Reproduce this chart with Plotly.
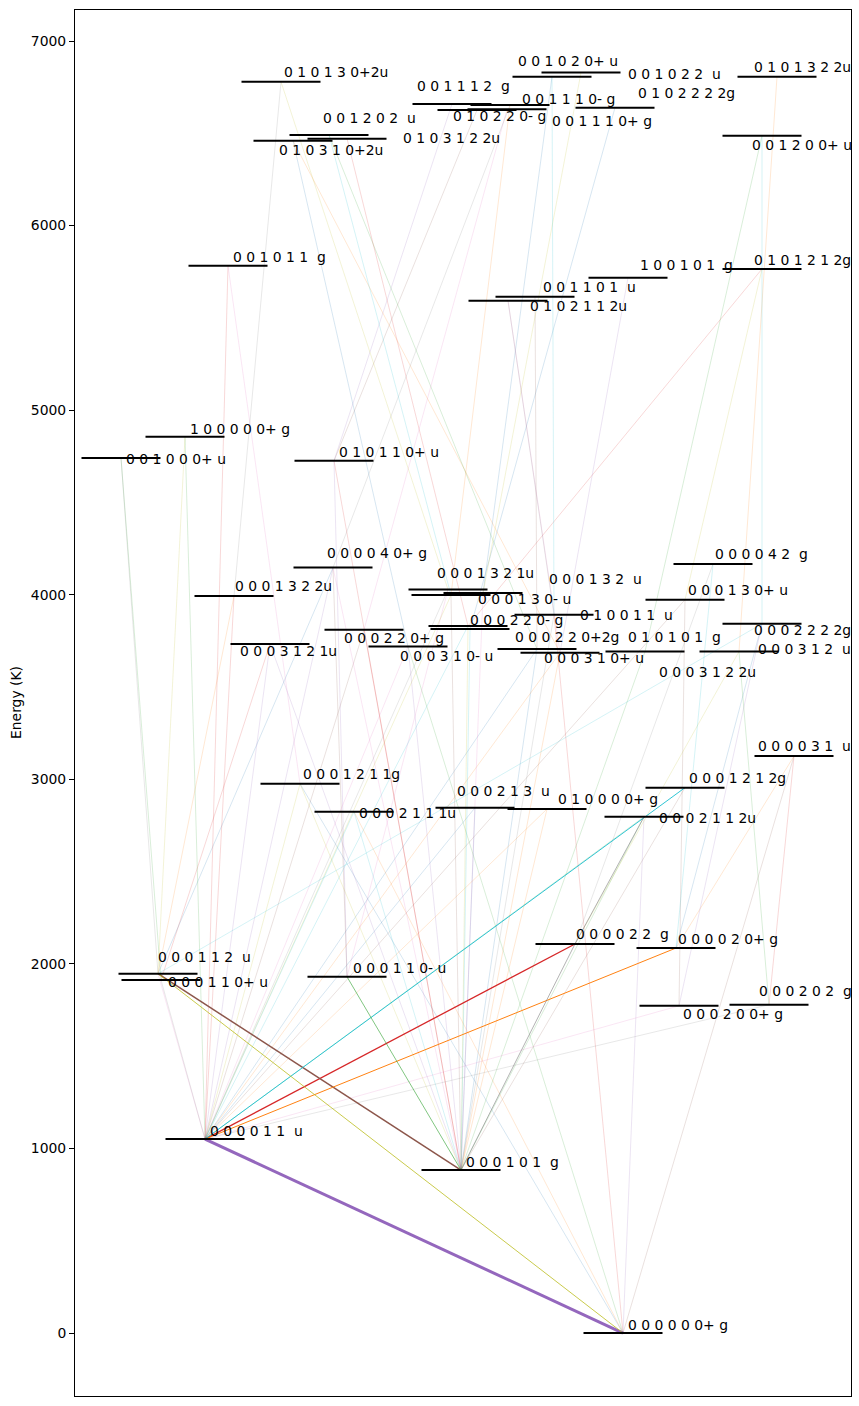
import plotly.graph_objects as go

# ---------------- data ----------------
level_labels = [
    "0 0 0 0 0 0+ g", "0 0 0 0 1 1  u", "0 0 0 1 0 1  g", "0 0 0 1 1 2  u", "0 0 0 1 1 0+ u",
    "0 0 0 1 1 0- u", "0 0 0 0 2 2  g", "0 0 0 0 2 0+ g", "0 0 0 2 0 2  g", "0 0 0 2 0 0+ g",
    "0 0 0 1 2 1 1g", "0 0 0 2 1 1 1u", "0 0 0 2 1 3  u", "0 1 0 0 0 0+ g", "0 0 0 1 2 1 2g",
    "0 0 0 2 1 1 2u", "0 0 0 0 3 1  u", "0 0 0 0 4 0+ g", "0 0 0 1 3 2 2u", "0 0 0 3 1 2 1u",
    "0 0 0 2 2 0+ g", "0 0 0 3 1 0- u", "0 0 0 1 3 2 1u", "0 0 0 1 3 0- u", "0 0 0 1 3 2  u",
    "0 0 0 0 4 2  g", "0 0 0 1 3 0+ u", "0 1 0 0 1 1  u", "0 0 0 2 2 0- g", "0 0 0 3 1 2 2u",
    "0 0 0 2 2 0+2g", "0 0 0 3 1 0+ u", "0 1 0 1 0 1  g", "0 0 0 3 1 2  u", "0 0 0 2 2 2 2g",
    "1 0 0 0 0 0+ g", "0 0 1 0 0 0+ u", "0 1 0 1 1 0+ u", "0 0 1 0 1 1  g", "1 0 0 1 0 1  g",
    "0 1 0 1 2 1 2g", "0 0 1 1 0 1  u", "0 1 0 2 1 1 2u", "0 1 0 1 3 0+2u", "0 0 1 1 1 2  g",
    "0 0 1 1 1 0- g", "0 0 1 1 1 0+ g", "0 1 0 2 2 0- g", "0 1 0 2 2 2 2g", "0 0 1 2 0 2  u",
    "0 1 0 3 1 0+2u", "0 1 0 3 1 2 2u", "0 0 1 0 2 0+ u", "0 0 1 0 2 2  u", "0 1 0 1 3 2 2u",
    "0 0 1 2 0 0+ u",
]
level_E = [
    0, 1051, 883, 1947, 1913,
    1930, 2108, 2086, 1779, 1773,
    2976, 2824, 2846, 2839, 2955,
    2797, 3126, 4147, 3993, 3733,
    3811, 3719, 4028, 3998, 4009,
    4166, 3973, 3892, 3831, 3814,
    3706, 3686, 3692, 3692, 3843,
    4856, 4741, 4726, 5783, 5718,
    5765, 5615, 5593, 6779, 6659,
    6653, 6630, 6626, 6639, 6491,
    6460, 6471, 6829, 6807, 6807,
    6487,
]
# horizontal placement of each level (arbitrary diagram units)
level_x = [
    548, 130, 386, 83, 86,
    272, 500, 601, 694, 604,
    225, 279, 400, 472, 610,
    569, 719, 258, 159, 195,
    289, 333, 373, 376, 408,
    638, 610, 479, 393, 395,
    462, 485, 570, 664, 687,
    110, 46, 259, 153, 553,
    687, 460, 433, 206, 377,
    435, 432, 402, 540, 254,
    218, 272, 506, 477, 702,
    687,
]

# strong transitions (from level, to level, relative intensity)
strong_from = [0, 1, 3, 1, 1, 3, 2, 6, 2]
strong_to = [1, 6, 2, 7, 14, 0, 5, 15, 6]
strong_int = [1.0, 0.43, 0.5, 0.33, 0.3, 0.27, 0.2, 0.2, 0.2]

# weak transitions (from level, to level)
weak_from = [
    0, 0, 0, 0, 0, 0,
    1, 1, 1, 1, 1, 1, 1, 1, 1, 1, 1, 1, 1, 1, 1, 1, 1, 1, 1, 1, 1, 1,
    2, 2, 2, 2, 2, 2, 2, 2, 2, 2, 2, 2, 2, 2, 2, 2, 2, 2, 2,
    3, 3, 3, 3, 3, 4, 4, 5, 5, 5, 6, 6, 7, 7, 7, 8, 8, 9, 9,
    10, 18, 22, 23, 21, 31, 30, 28, 37, 37, 20, 17, 24, 27, 29, 33, 32, 28, 31, 30, 31, 27, 26, 34, 24, 23,
]
weak_to = [
    10, 11, 21, 27, 15, 16,
    3, 4, 10, 11, 12, 13, 15, 18, 19, 20, 21, 22, 23, 28, 30, 31, 35, 38, 17, 26, 9, 8,
    10, 11, 12, 13, 15, 20, 21, 23, 24, 27, 28, 29, 30, 31, 32, 37, 19, 14, 17,
    36, 35, 34, 17, 18, 36, 19, 37, 17, 22, 25, 33, 25, 34, 16, 33, 16, 34, 26,
    38, 43, 43, 49, 50, 50, 49, 51, 44, 47, 46, 45, 52, 53, 48, 54, 55, 40, 39, 41, 42, 42, 40, 55, 53, 45,
]

yticks = [0, 1000, 2000, 3000, 4000, 5000, 6000, 7000]

# ---------------- styling / drawing ----------------
tab10 = ["#1f77b4", "#ff7f0e", "#2ca02c", "#d62728", "#9467bd",
         "#8c564b", "#e377c2", "#7f7f7f", "#bcbd22", "#17becf"]
strong_colors = ["#9467bd", "#d62728", "#8c564b", "#ff7f0e", "#17becf",
                 "#bcbd22", "#2ca02c", "#7f7f7f", "#7f7f7f"]


def rgba(h, a):
    h = h.lstrip("#")
    return "rgba(%d,%d,%d,%.2f)" % (int(h[0:2], 16), int(h[2:4], 16), int(h[4:6], 16), a)


FONT = "DejaVu Sans"
FS = 13.9
HALF = 39.5

fig = go.Figure()

# weak transitions grouped by colour
groups = {i: ([], []) for i in range(10)}
for k, (a, b) in enumerate(zip(weak_from, weak_to)):
    xs, ys = groups[k % 10]
    xs += [level_x[a], level_x[b], None]
    ys += [level_E[a], level_E[b], None]
for i in range(10):
    xs, ys = groups[i]
    fig.add_trace(go.Scatter(x=xs, y=ys, mode="lines", hoverinfo="skip",
                             line=dict(color=rgba(tab10[i], 0.3), width=0.6),
                             showlegend=False))

# strong transitions
for a, b, s, c in zip(strong_from, strong_to, strong_int, strong_colors):
    fig.add_trace(go.Scatter(x=[level_x[a], level_x[b]], y=[level_E[a], level_E[b]],
                             mode="lines", hoverinfo="skip",
                             line=dict(color=c, width=3.0 * s),
                             showlegend=False))

# level bars
bx, by = [], []
for x, e in zip(level_x, level_E):
    bx += [x - HALF, x + HALF, None]
    by += [e, e, None]
fig.add_trace(go.Scatter(x=bx, y=by, mode="lines", hoverinfo="skip",
                         line=dict(color="black", width=2), showlegend=False))

# label placement (diagram units)
label_x = [
    551, 133, 389, 81, 91,
    276, 499, 601, 682, 606,
    226, 282, 380, 481, 612,
    582, 681, 250, 158, 163,
    267, 323, 360, 401, 472,
    638, 611, 503, 393, 582,
    438, 467, 551, 681, 677,
    113, 49, 262, 156, 563,
    677, 466, 453, 207, 340,
    445, 475, 376, 561, 246,
    202, 326, 441, 551, 677,
    675,
]
label_E = [
    43, 1094, 926, 2037, 1902,
    1978, 2162, 2135, 1853, 1729,
    3029, 2817, 2937, 2893, 3007,
    2790, 3180, 4226, 4047, 3695,
    3766, 3668, 4118, 3977, 4085,
    4221, 4026, 3890, 3863, 3581,
    3771, 3657, 3771, 3706, 3809,
    4898, 4735, 4773, 5830, 5786,
    5813, 5667, 5564, 6832, 6756,
    6686, 6567, 6594, 6718, 6583,
    6410, 6475, 6892, 6821, 6859,
    6437,
]
for t, x, e in zip(level_labels, label_x, label_E):
    fig.add_annotation(x=x, y=e, text=t.replace("  ", " \u00a0"), showarrow=False,
                       xanchor="left", yanchor="middle",
                       font=dict(family=FONT, size=FS, color="black"))

fig.add_annotation(xref="paper", yref="paper", x=(16 - 75) / 776, y=0.5,
                   text="Energy (K)", textangle=-90, showarrow=False,
                   xanchor="center", yanchor="middle",
                   font=dict(family=FONT, size=FS, color="black"))

fig.update_layout(
    width=859, height=1406,
    margin=dict(l=75, r=8, t=10, b=10),
    paper_bgcolor="white", plot_bgcolor="white",
    showlegend=False,
    xaxis=dict(range=[0, 776], showticklabels=False, ticks="", showgrid=False,
               zeroline=False, showline=True, mirror=True, linecolor="black", linewidth=1),
    yaxis=dict(range=[-341, 7168], tickvals=yticks, ticks="outside", ticklen=5,
               tickcolor="black", showgrid=False, zeroline=False, showline=True,
               mirror=True, linecolor="black", linewidth=1,
               tickfont=dict(family=FONT, size=FS, color="black")),
)

fig.write_html("out.html")
